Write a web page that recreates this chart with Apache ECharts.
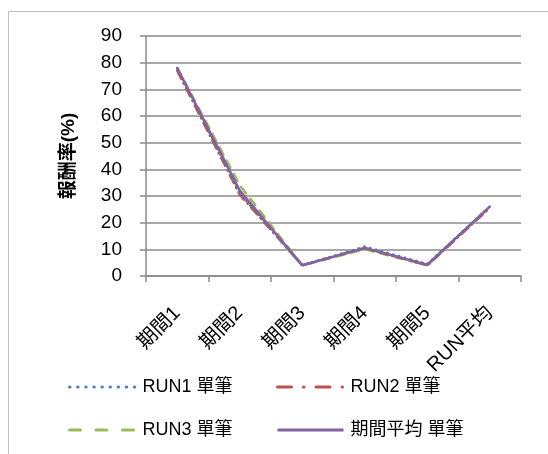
<!DOCTYPE html>
<html>
<head>
<meta charset="utf-8">
<script src="https://cdn.jsdelivr.net/npm/echarts@6/dist/echarts.min.js"></script>
<style>
  html, body { margin: 0; padding: 0; background: #fff; }
  #chart { width: 548px; height: 454px; }
</style>
</head>
<body>
<div id="chart"></div>
<script>
// Periods on the category axis
const categories = ['期間1', '期間2', '期間3', '期間4', '期間5', 'RUN平均'];

// Return rate (%) per period for each run and the period average
const run1 = [78, 31, 4, 11, 4.5, 26];
const run2 = [77, 30.5, 4, 10.5, 4, 25.5];
const run3 = [78, 34, 4, 10, 4, 26];
const periodAvg = [78, 32, 4, 10.5, 4.2, 26];

const seriesNames = ['RUN1 單筆', 'RUN2 單筆', 'RUN3 單筆', '期間平均 單筆'];

// Y axis ticks
const yMin = 0, yMax = 90, yStep = 10;

const FONT = "'Liberation Sans', 'Noto Sans CJK TC', sans-serif";
const GRID_COLOR = '#8a8a8a';

const chart = echarts.init(document.getElementById('chart'), null, { renderer: 'canvas' });

function lineSeries(name, data, color, type, cap) {
  return {
    name: name,
    type: 'line',
    data: data,
    symbol: 'none',
    smooth: false,
    lineStyle: { color: color, width: 2.6, type: type, cap: cap || 'butt' },
    itemStyle: { color: color }
  };
}

// One legend block per entry so the two columns line up;
// the key line gets its own, longer dash pattern
function legendAt(name, left, top, dash, cap) {
  return {
    data: [name],
    left: left,
    top: top,
    padding: 0,
    orient: 'horizontal',
    itemWidth: 66,
    itemHeight: 14,
    itemStyle: { opacity: 0 },
    lineStyle: { width: 3, type: dash, cap: cap },
    textStyle: { fontFamily: FONT, fontSize: 18, color: '#000', padding: [0, 0, 0, 2] }
  };
}

chart.setOption({
  animation: false,
  backgroundColor: '#fff',
  graphic: [{
    type: 'rect',
    shape: { x: 8.5, y: 11.5, width: 600, height: 500 },
    style: { fill: 'none', stroke: '#bfbfbf', lineWidth: 1 },
    silent: true,
    z: -1
  }],
  grid: { left: 146, right: 27, top: 36, bottom: 178, containLabel: false },
  legend: [
    legendAt(seriesNames[0], 68, 378, [0.5, 7.6], 'round'),
    legendAt(seriesNames[1], 276, 378, [14, 12, 0.5, 12], 'round'),
    legendAt(seriesNames[2], 68, 421, [11, 15.5], 'round'),
    legendAt(seriesNames[3], 276, 421, 'solid', 'butt')
  ],
  xAxis: {
    type: 'category',
    data: categories,
    boundaryGap: true,
    axisLine: { show: true, lineStyle: { color: GRID_COLOR, width: 1.5 } },
    axisTick: { show: true, alignWithLabel: false, length: 6, lineStyle: { color: GRID_COLOR, width: 1.5 } },
    axisLabel: {
      rotate: 45,
      margin: 34,
      interval: 0,
      fontFamily: FONT,
      fontSize: 20,
      color: '#000'
    },
    splitLine: { show: false }
  },
  yAxis: {
    type: 'value',
    min: yMin,
    max: yMax,
    interval: yStep,
    name: '報酬率(%)',
    nameLocation: 'middle',
    nameGap: 68,
    nameRotate: 90,
    nameTextStyle: { fontFamily: FONT, fontSize: 19, fontWeight: 'bold', color: '#000' },
    axisLine: { show: true, lineStyle: { color: GRID_COLOR, width: 1.5 } },
    axisTick: { show: true, inside: false, length: 6, lineStyle: { color: GRID_COLOR, width: 1.5 } },
    axisLabel: { margin: 24, fontFamily: FONT, fontSize: 19, color: '#000' },
    splitLine: { show: true, lineStyle: { color: GRID_COLOR, width: 1.5 } }
  },
  series: [
    lineSeries(seriesNames[2], run3, '#9bbb59', [8, 7], 'round'),
    lineSeries(seriesNames[1], run2, '#c0504d', [9, 5, 0.5, 5], 'round'),
    lineSeries(seriesNames[0], run1, '#4f81bd', [0.5, 5.5], 'round'),
    lineSeries(seriesNames[3], periodAvg, '#8064a2', 'solid', 'butt')
  ]
});
</script>
</body>
</html>
